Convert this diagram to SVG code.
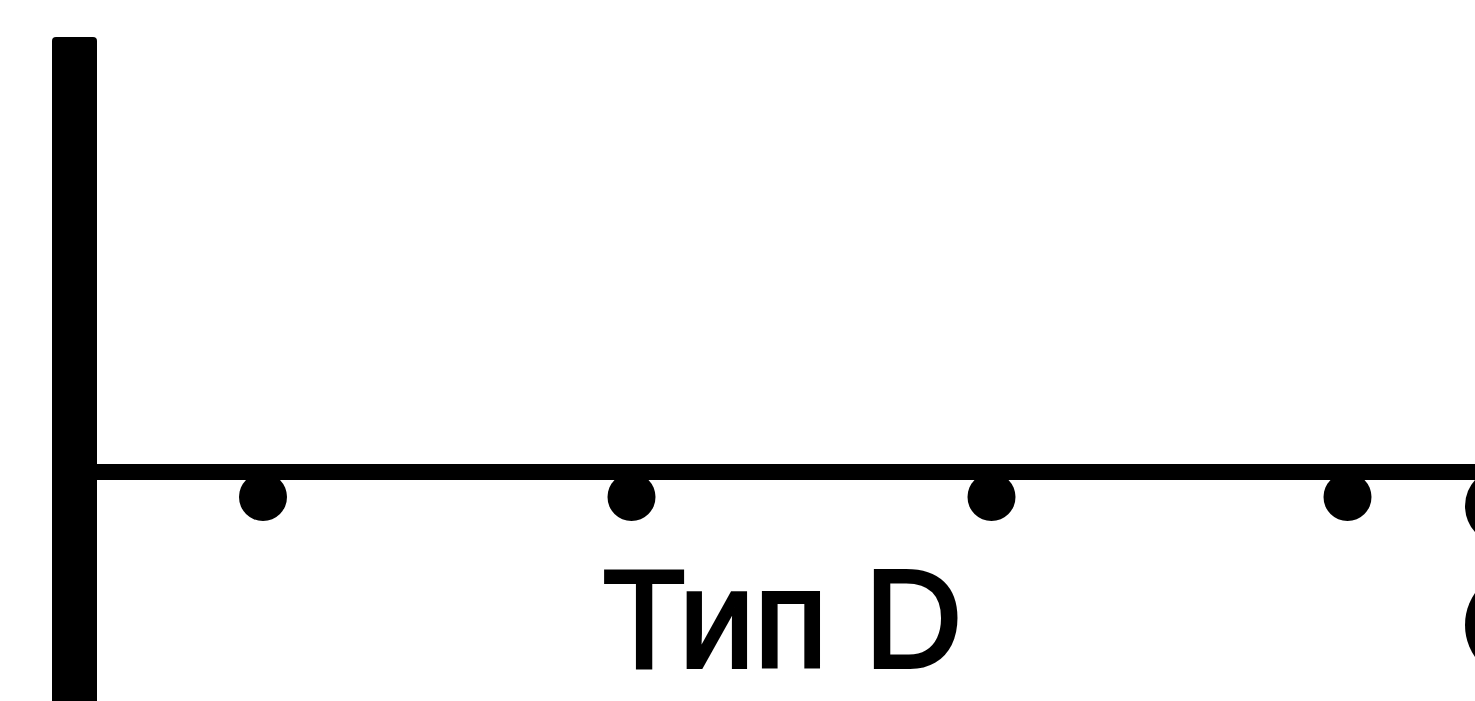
<svg xmlns="http://www.w3.org/2000/svg" width="1475" height="701" viewBox="0 0 1475 701">
<style>
.ink{fill:#000;stroke:none}
.lbl{font-family:"Liberation Sans",Arial,sans-serif;font-size:140px;fill:#000;stroke:#000;stroke-width:4px}
</style>
<rect width="1475" height="701" fill="#fff"/>
<g id="wall"><rect class="ink" x="52" y="37" width="45" height="680" rx="4"/></g>
<g id="connectors"><rect class="ink" x="95" y="464" width="1385" height="16"/></g>
<g id="dot1"><circle class="ink" cx="263" cy="497" r="24"/></g>
<g id="dot2"><circle class="ink" cx="631.5" cy="497" r="24"/></g>
<g id="dot3"><circle class="ink" cx="991.5" cy="497" r="24"/></g>
<g id="dot4"><circle class="ink" cx="1347.5" cy="497" r="24"/></g>
<g id="dot5"><circle class="ink" cx="1504" cy="506" r="39"/></g>
<g id="partial"><circle class="ink" cx="1521" cy="625" r="56"/></g>
<g id="label"><text class="lbl" x="603" y="667" textLength="359" lengthAdjust="spacingAndGlyphs">Тип D</text></g>
</svg>
